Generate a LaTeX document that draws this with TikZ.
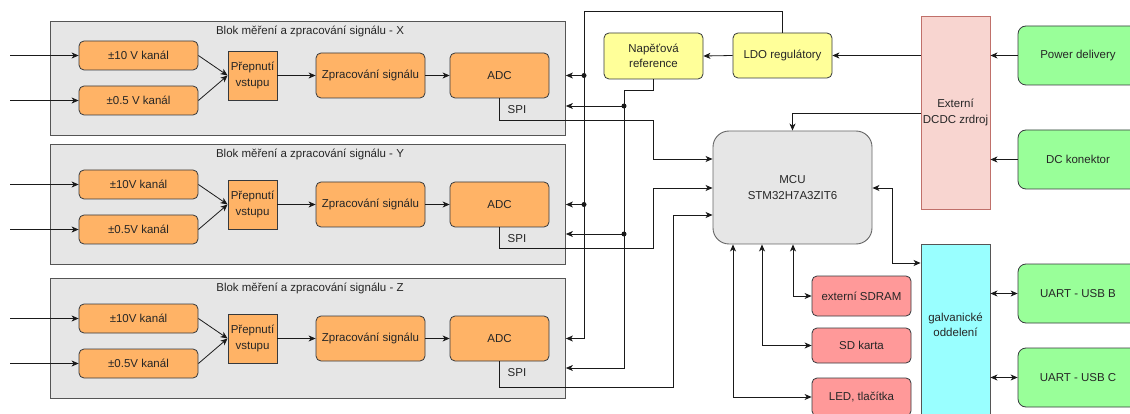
\documentclass[tikz,border=0pt]{standalone}
\usepackage{fontspec}
\setmainfont{Liberation Sans}
\usetikzlibrary{arrows.meta}

\definecolor{txtcol}{HTML}{262626}
\definecolor{wirecol}{HTML}{1A1A1A}
\definecolor{edgecol}{HTML}{36393D}
\definecolor{blockfill}{HTML}{E6E6E6}
\definecolor{blockedge}{HTML}{555555}
\definecolor{orangefill}{HTML}{FFB366}
\definecolor{yellowfill}{HTML}{FFFF99}
\definecolor{greenfill}{HTML}{99FF99}
\definecolor{pinkfill}{HTML}{FF9999}
\definecolor{cyanfill}{HTML}{99FFFF}
\definecolor{dcdcfill}{HTML}{F8D5D0}
\definecolor{dcdcedge}{HTML}{C0706A}
\definecolor{mcuedge}{HTML}{666666}

\begin{document}
\begin{tikzpicture}[x=1pt,y=-1pt,
  every node/.style={font=\fontsize{11.5}{15.5}\selectfont, text=txtcol, inner sep=0pt, align=center},
  shape base/.style={draw=edgecol, line width=0.8pt},
  blockbg/.style={draw=blockedge, fill=blockfill, line width=0.9pt},
  orangebox/.style={shape base, fill=orangefill, rounded corners=5pt},
  switchbox/.style={shape base, fill=orangefill},
  yellowbox/.style={shape base, fill=yellowfill, rounded corners=5pt},
  greenbox/.style={shape base, fill=greenfill, rounded corners=8pt, minimum width=120, minimum height=59},
  pinkbox/.style={shape base, fill=pinkfill, rounded corners=5pt, minimum width=99},
  mcubox/.style={draw=mcuedge, line width=0.9pt, fill=blockfill, rounded corners=16pt},
  dcdcbox/.style={draw=dcdcedge, line width=0.9pt, fill=dcdcfill},
  galvbox/.style={draw=blockedge, line width=0.9pt, fill=cyanfill},
  wire/.style={draw=wirecol, line width=0.8pt},
  arr/.style={wire, -{Stealth[length=7pt,width=6pt,inset=2pt]}},
  biarr/.style={wire, {Stealth[length=7pt,width=6pt,inset=2pt]}-{Stealth[length=7pt,width=6pt,inset=2pt]}},
  dot/.style={circle, fill=wirecol, minimum size=5pt, inner sep=0pt}]

\useasboundingbox (0,0) rectangle (1130,414);
\fill[white] (0,0) rectangle (1130,414);

% --- three measurement channels X, Y, Z ---
\foreach \b/\yc/\top/\bot/\spiy/\sp in {X/75.5/21/135/120/~, Y/204.5/144/264/248/\relax, Z/338.5/278/398/387/\relax}{
  \node[blockbg, anchor=north west, minimum width=515, minimum height=\bot-\top] (blk\b) at (50,\top) {};
  \node (title\b) at (310,\top+10) {Blok měření a zpracování signálu - \b};
  \node[orangebox, minimum width=119, minimum height=29] (ch10\b) at (138.5,\yc-20) {±10\sp V kanál};
  \node[orangebox, minimum width=119, minimum height=29] (ch05\b) at (138.5,\yc+25) {±0.5\sp V kanál};
  \node[switchbox, minimum width=49, minimum height=49] (sw\b) at (252.5,\yc) {Přepnutí\\vstupu};
  \node[orangebox, minimum width=109, minimum height=45] (zp\b) at (370.5,\yc) {Zpracování signálu};
  \node[orangebox, minimum width=99, minimum height=45] (adc\b) at (499.5,\yc) {ADC};
  \node (spi\b) at (517,\yc+34.5) {SPI};
  \coordinate (srcA\b) at (10,\yc-20);
  \coordinate (srcB\b) at (10,\yc+25);
  \draw[arr] (srcA\b) -- (ch10\b);
  \draw[arr] (srcB\b) -- (ch05\b);
  \draw[arr] (ch10\b.east) -- (sw\b.west);
  \draw[arr] (ch05\b.east) -- (sw\b.west);
  \draw[arr] (sw\b) -- (zp\b);
  \draw[arr] (zp\b) -- (adc\b);
}

% --- power and reference ---
\node[yellowbox, minimum width=99, minimum height=46] (ref) at (653.5,56) {Napěťová\\reference};
\node[yellowbox, minimum width=99, minimum height=45] (ldo) at (782.5,55.5) {LDO regulátory};
\node[dcdcbox, minimum width=69, minimum height=193] (dcdc) at (955.5,112.5) {Externí\\DCDC zrdroj};
\node[greenbox] (pd) at (1078,55.5) {Power delivery};
\node[greenbox] (dck) at (1078,159.5) {DC konektor};

% --- MCU and peripherals ---
\node[mcubox, minimum width=159, minimum height=113] (mcu) at (792.5,187.5) {MCU\\STM32H7A3ZIT6};
\node[pinkbox, minimum height=40] (sdram) at (861.5,296) {externí SDRAM};
\node[pinkbox, minimum height=35] (sd) at (861.5,345.5) {SD karta};
\node[pinkbox, minimum height=38] (led) at (861.5,397) {LED, tlačítka};
\node[galvbox, anchor=north, minimum width=69, minimum height=180] (galv) at (955.5,244) {};
\node (galvtxt) at (955.5,325) {galvanické\\oddelení};
\node[greenbox] (usbb) at (1078,293.5) {UART - USB B};
\node[greenbox] (usbc) at (1078,377.5) {UART - USB C};

% --- supply chain ---
\draw[arr] (pd.west) -- (dcdc.east |- pd.west);
\draw[arr] (dck.west) -- (dcdc.east |- dck.west);
\draw[arr] (dcdc.west |- ldo.east) -- (ldo.east);
\draw[arr] (ldo.west) -- (ref.east);
\draw[arr] (dcdc.west |- 0,113) -| (mcu.north);

% --- LDO supply bus to the ADCs ---
\coordinate (ldobus) at (584,11);
\draw[arr] (ldo.north) |- (ldobus) |- (blkZ.east |- adcZ);
\node[dot] (jldoX) at (ldobus |- adcX) {};
\node[dot] (jldoY) at (ldobus |- adcY) {};
\draw[arr] (jldoX.center) -- (blkX.east |- adcX);
\draw[arr] (jldoY.center) -- (blkY.east |- adcY);

% --- reference bus to the ADCs ---
\coordinate (refbus) at (624,90);
\draw[arr] (ref.south) |- (refbus) |- (blkZ.east |- 0,368);
\node[dot] (jrefX) at (624,106) {};
\node[dot] (jrefY) at (624,234) {};
\draw[arr] (jrefX.center) -- (blkX.east |- jrefX);
\draw[arr] (jrefY.center) -- (blkY.east |- jrefY);

% --- SPI links to the MCU ---
\draw[arr] (adcX.south) |- (653,120) |- (mcu.west |- 0,159);
\draw[arr] (adcY.south) |- (653,248) |- (mcu.west |- 0,188);
\draw[arr] (adcZ.south) |- (673,387) |- (mcu.west |- 0,215);

% --- MCU peripherals ---
\draw[biarr] (mcu.south -| 793,0) |- (sdram.west);
\draw[biarr] (mcu.south -| 762,0) |- (sd.west);
\draw[biarr] (mcu.south -| 733,0) |- (led.west);
\coordinate (gbend) at (892,263);
\draw[biarr] (mcu.east |- 0,188) -| (gbend) -- (galv.west |- gbend);
\draw[biarr] (galv.east |- usbb.west) -- (usbb.west);
\draw[biarr] (galv.east |- usbc.west) -- (usbc.west);
\end{tikzpicture}
\end{document}
